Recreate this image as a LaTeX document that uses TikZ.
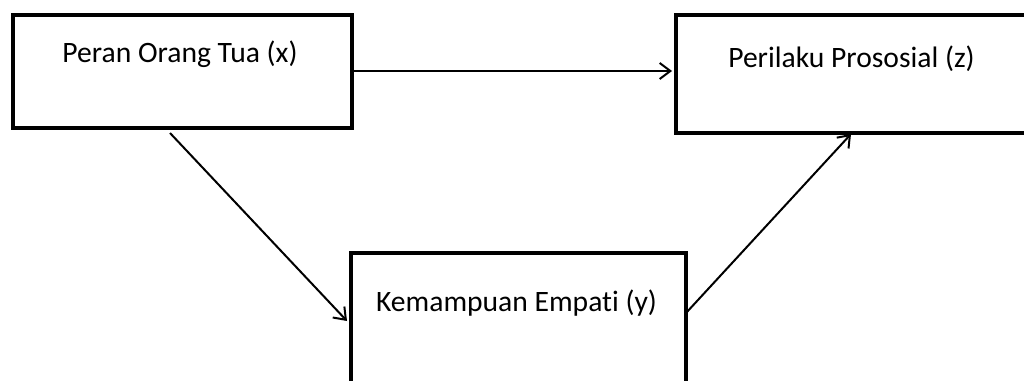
\documentclass[tikz,border=0pt]{standalone}
\usepackage{fontspec}
\setmainfont[Ligatures=NoCommon,RawFeature={-liga;-calt}]{Carlito}
\usetikzlibrary{arrows.meta}
\begin{document}
\begin{tikzpicture}[x=0.75pt,y=-0.75pt,
  box/.style={draw=black,line width=3pt,rectangle,inner sep=0pt,anchor=north west},
  lbl/.style={font=\fontsize{22.2pt}{26pt}\selectfont,inner sep=0pt,anchor=base},
  conn/.style={line width=1.5pt,-{Straight Barb[length=8pt,width=12pt,line width=1.5pt]}}]
\useasboundingbox (0,0) rectangle (1024,381);
\begin{scope}
\clip (0,0) rectangle (1024,381);
\node[box,minimum width=339*0.75pt,minimum height=113*0.75pt] (b1) at (11,13) {};
\node[box,minimum width=360*0.75pt,minimum height=118*0.75pt] (b2) at (674,13) {};
\node[box,minimum width=335*0.75pt,minimum height=140*0.75pt] (b3) at (349,251) {};
\end{scope}
\node[lbl] (t1) at (180,63) {Peran Orang Tua (x)};
\node[lbl] (t2) at (851.5,68) {Perilaku Prososial (z)};
\node[lbl] (t3) at (516.5,311) {Kemampuan Empat\kern0pt i (y)};
\coordinate (s1) at (352,71);
\coordinate (e1) at (672,71);
\coordinate (s2) at (170,133);
\coordinate (e2) at (347,321);
\coordinate (s3) at (686,313);
\coordinate (e3) at (851,134);
\draw[conn] (s1) -- (e1);
\draw[conn] (s2) -- (e2);
\draw[conn] (s3) -- (e3);
\end{tikzpicture}
\end{document}
